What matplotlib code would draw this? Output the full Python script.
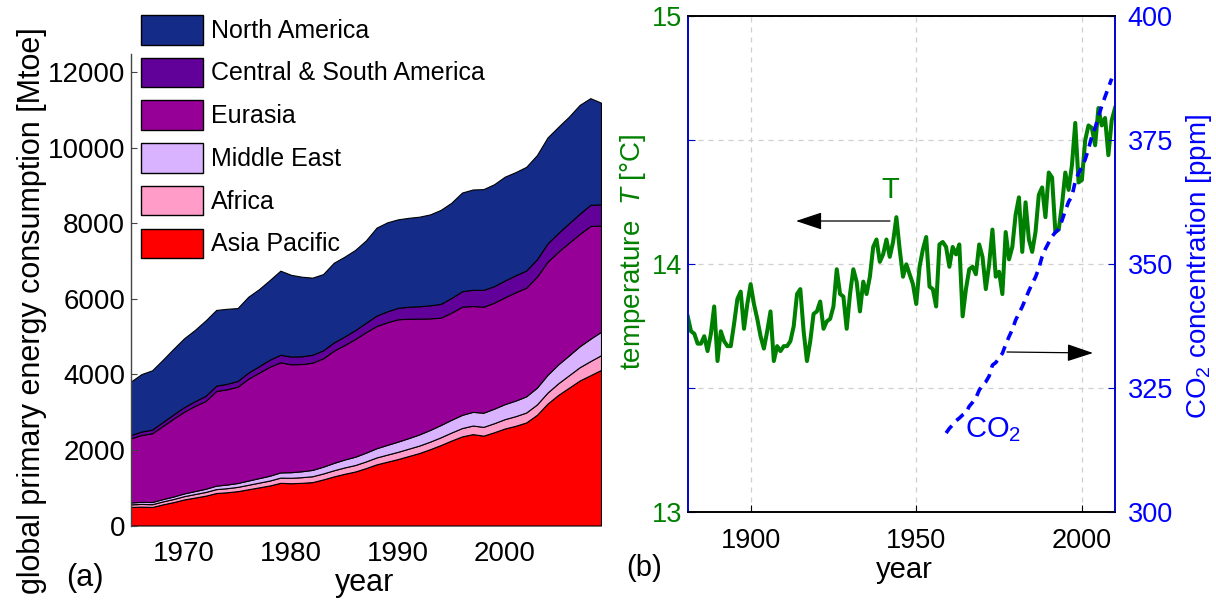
import numpy as np
import matplotlib
matplotlib.use("Agg")
import matplotlib.pyplot as plt
from matplotlib.patches import Rectangle, FancyArrowPatch

plt.rcParams['font.family'] = ['Liberation Sans', 'DejaVu Sans']
plt.rcParams['mathtext.fontset'] = 'custom'
plt.rcParams['mathtext.rm'] = 'Liberation Sans'
plt.rcParams['mathtext.it'] = 'Liberation Sans:italic'

# ---------------- data: panel (a) ----------------
years_a = list(range(1965, 2010))
asia_pacific = [490, 500, 490, 560, 620, 690, 740, 790, 860, 880,
                910, 960, 1010, 1060, 1130, 1120, 1130, 1150, 1220, 1300,
                1370, 1430, 1520, 1620, 1690, 1760, 1840, 1920, 2020, 2130,
                2250, 2360, 2420, 2380, 2470, 2570, 2640, 2730, 2930, 3230,
                3460, 3650, 3840, 3980, 4120]
africa = [70, 72, 74, 78, 82, 88, 93, 98, 104, 108,
          113, 119, 125, 131, 138, 144, 150, 155, 158, 163,
          168, 172, 177, 183, 188, 192, 195, 198, 201, 206,
          213, 221, 228, 233, 240, 248, 256, 263, 276, 292,
          308, 330, 352, 375, 390]
middle_east = [50, 55, 58, 62, 66, 72, 78, 85, 92, 97,
               103, 112, 120, 128, 138, 148, 157, 168, 180, 195,
               210, 220, 232, 245, 258, 270, 280, 295, 310, 325,
               338, 350, 362, 375, 385, 398, 412, 428, 445, 470,
               500, 525, 555, 590, 620]
eurasia = [1699, 1770, 1820, 1936, 2062, 2165, 2255, 2325, 2507, 2523,
           2551, 2698, 2793, 2888, 2916, 2858, 2841, 2840, 2870, 2973,
           3033, 3118, 3191, 3237, 3247, 3240, 3163, 3065, 2957, 2844,
           2836, 2865, 2805, 2808, 2807, 2829, 2869, 2878, 2940, 2996,
           2985, 2986, 2975, 2989, 2820]
central_south_america = [88, 92, 98, 105, 112, 120, 127, 134, 140, 145,
                         152, 160, 170, 185, 200, 205, 205, 210, 212, 218,
                         225, 235, 250, 275, 290, 305, 318, 330, 345, 365,
                         390, 410, 430, 445, 440, 445, 450, 455, 460, 485,
                         495, 515, 535, 560, 555]
north_america = [1413, 1521, 1570, 1649, 1738, 1825, 1887, 1998, 2007, 1987,
                 1931, 2011, 2042, 2108, 2228, 2165, 2107, 2042, 2020, 2111,
                 2114, 2125, 2180, 2330, 2357, 2343, 2354, 2372, 2407, 2490,
                 2523, 2614, 2655, 2669, 2698, 2750, 2733, 2746, 2759, 2807,
                 2812, 2824, 2883, 2826, 2695]
region_names = ['Asia Pacific', 'Africa', 'Middle East', 'Eurasia',
                'Central & South America', 'North America']
region_colors = ['#ff0000', '#ff9cc8', '#d9b3ff', '#960096', '#62009a', '#152b88']
a_yticks = [0, 2000, 4000, 6000, 8000, 10000, 12000]
a_xticks = [1970, 1980, 1990, 2000]

# ---------------- data: panel (b) ----------------
years_t = list(range(1881, 2011))
temperature = [
    13.79, 13.73, 13.72, 13.68, 13.68, 13.71, 13.65, 13.72, 13.83, 13.61,  # 1881-1890
    13.73, 13.69, 13.67, 13.67, 13.76, 13.86, 13.89, 13.74, 13.84, 13.92,  # 1891-1900
    13.84, 13.78, 13.71, 13.66, 13.73, 13.81, 13.61, 13.67, 13.65, 13.67,  # 1901-1910
    13.67, 13.69, 13.75, 13.88, 13.90, 13.73, 13.61, 13.69, 13.80, 13.81,  # 1911-1920
    13.85, 13.74, 13.77, 13.78, 13.83, 13.98, 13.88, 13.87, 13.74, 13.88,  # 1921-1930
    13.98, 13.93, 13.81, 13.93, 13.88, 13.95, 14.07, 14.10, 14.01, 14.04,  # 1931-1940
    14.10, 14.03, 14.09, 14.19, 14.06, 13.95, 14.00, 13.96, 13.92, 13.84,  # 1941-1950
    13.99, 14.06, 14.11, 13.91, 13.90, 13.83, 14.08, 14.09, 14.07, 13.99,  # 1951-1960
    14.07, 14.04, 14.08, 13.79, 13.90, 13.98, 13.99, 13.96, 14.08, 14.03,  # 1961-1970
    13.90, 14.00, 14.14, 13.95, 13.97, 13.88, 14.13, 14.02, 14.07, 14.20,  # 1971-1980
    14.27, 14.05, 14.25, 14.10, 14.05, 14.13, 14.28, 14.31, 14.19, 14.37,  # 1981-1990
    14.35, 14.13, 14.14, 14.24, 14.37, 14.30, 14.40, 14.57, 14.33, 14.34,  # 1991-2000
    14.50, 14.56, 14.55, 14.48, 14.63, 14.56, 14.59, 14.44, 14.58, 14.63,  # 2001-2010
]
years_co2 = list(range(1959, 2010))
co2 = [315.98, 316.91, 317.64, 318.45, 318.99, 319.62, 320.04, 321.38, 322.16, 323.04,
       324.62, 325.68, 326.32, 327.45, 329.68, 330.18, 331.11, 332.04, 333.83, 335.40,
       336.84, 338.75, 340.11, 341.45, 343.05, 344.65, 346.12, 347.42, 349.19, 351.57,
       353.12, 354.39, 355.61, 356.45, 357.10, 358.83, 360.82, 362.61, 363.73, 366.70,
       368.38, 369.55, 371.14, 373.28, 375.80, 377.52, 379.80, 381.90, 383.79, 385.60,
       387.43]
b_xticks = [1900, 1950, 2000]
b_tticks = [13, 13.5, 14, 14.5, 15]
b_tlabels = ['13', '', '14', '', '15']
b_cticks = [300, 325, 350, 375, 400]

W, H = 1216, 601
fig = plt.figure(figsize=(W / 100, H / 100), dpi=100)

def fx(px):
    return px / W

def fy(py):
    return 1 - py / H

# ---------------- panel (a) ----------------
ax1 = fig.add_axes([fx(130.7), fy(525.5), fx(601 - 130.7), (525.5 - 53.6) / H])
ax1.stackplot(years_a, asia_pacific, africa, middle_east, eurasia,
              central_south_america, north_america,
              colors=region_colors, edgecolor='black', linewidth=0.8)
ax1.set_xlim(1965, 2009)
ax1.set_ylim(0, 12500)
for s in ['top', 'right', 'bottom']:
    ax1.spines[s].set_visible(False)
ax1.spines['left'].set_color('#444444')
ax1.spines['left'].set_linewidth(1.0)
ax1.set_yticks(a_yticks)
ax1.set_xticks(a_xticks)
ax1.tick_params(axis='y', direction='in', length=4, labelsize=20, pad=4, color='#444444')
ax1.tick_params(axis='x', length=0, labelsize=20, pad=11)

# legend (drawn as figure artists: North America on top)
leg_x0, leg_w, leg_h, leg_top, leg_step = 140.7, 62.6, 29.5, 15.0, 42.7
for i, (name, col) in enumerate(zip(region_names[::-1], region_colors[::-1])):
    top = leg_top + i * leg_step
    fig.add_artist(Rectangle((fx(leg_x0), fy(top + leg_h)), fx(leg_w), leg_h / H,
                             transform=fig.transFigure, facecolor=col,
                             edgecolor='black', linewidth=1.0))
    fig.text(fx(210.7), fy(top + leg_h / 2 + 1), name, ha='left', va='center',
             fontsize=18)

fig.text(fx(32), fy(311), 'global primary energy consumption [Mtoe]',
         rotation=90, ha='center', va='center', fontsize=22)
fig.text(fx(365), fy(583), 'year', ha='center', va='center', fontsize=22)
fig.text(fx(85), fy(578), '(a)', ha='center', va='center', fontsize=22)

# ---------------- panel (b) ----------------
green = '#008000'
blue = '#0000ff'
spine_blue = '#0000cc'
ax2 = fig.add_axes([fx(687.7), fy(512.3), fx(1115 - 687.7), (512.3 - 16.3) / H])
ax2.set_xlim(1881, 2010)
ax2.set_ylim(13, 15)
ax2.set_xticks(b_xticks)
ax2.set_yticks(b_tticks)
ax2.set_yticklabels(b_tlabels)
ax2.grid(True, linestyle=(0, (4, 4)), color='#cfcfcf', linewidth=0.9)
ax2.set_axisbelow(True)
ax2.plot(years_t, temperature, color=green, linewidth=2.9, zorder=3)
ax2.tick_params(axis='x', direction='in', length=5, labelsize=19.5, pad=11, color='black')
ax2.tick_params(axis='y', direction='in', length=5, labelsize=19.5, pad=4,
                color=spine_blue, labelcolor=green)

ax3 = ax2.twinx()
ax3.set_ylim(300, 400)
ax3.set_yticks(b_cticks)
ax3.plot(years_co2, co2, color=blue, linewidth=2.6, linestyle=(0, (2.6, 1.9)))
ax3.tick_params(axis='y', direction='in', length=5, labelsize=19.5, pad=9,
                color=spine_blue, labelcolor=blue)
for a in (ax2, ax3):
    a.spines['left'].set_color(spine_blue)
    a.spines['right'].set_color(spine_blue)
    a.spines['top'].set_color('black')
    a.spines['bottom'].set_color('black')
    for s in a.spines.values():
        s.set_linewidth(1.2)

fig.text(fx(633), fy(252), 'temperature  $T$ [°C]', rotation=90,
         ha='center', va='center', fontsize=20, color=green)
fig.text(fx(1199), fy(267), 'CO$_2$ concentration [ppm]', rotation=90,
         ha='center', va='center', fontsize=20, color=blue)
fig.text(fx(904), fy(570), 'year', ha='center', va='center', fontsize=21)
fig.text(fx(644), fy(568), '(b)', ha='center', va='center', fontsize=21)

fig.text(fx(890), fy(190), 'T', ha='center', va='center', fontsize=21, color=green)
fig.text(fx(965), fy(430), 'CO$_2$', ha='left', va='center', fontsize=21, color=blue)

arrow_kw = dict(arrowstyle='-|>,head_length=0.9,head_width=0.3', color='black',
                lw=0.9, mutation_scale=18, shrinkA=0, shrinkB=0)
fig.add_artist(FancyArrowPatch(
    (fx(890), fy(221)), (fx(796), fy(221)), transform=fig.transFigure, **arrow_kw))
fig.add_artist(FancyArrowPatch(
    (fx(1007), fy(352)), (fx(1093), fy(353)), transform=fig.transFigure, **arrow_kw))

fig.savefig('out.png', dpi=100)
